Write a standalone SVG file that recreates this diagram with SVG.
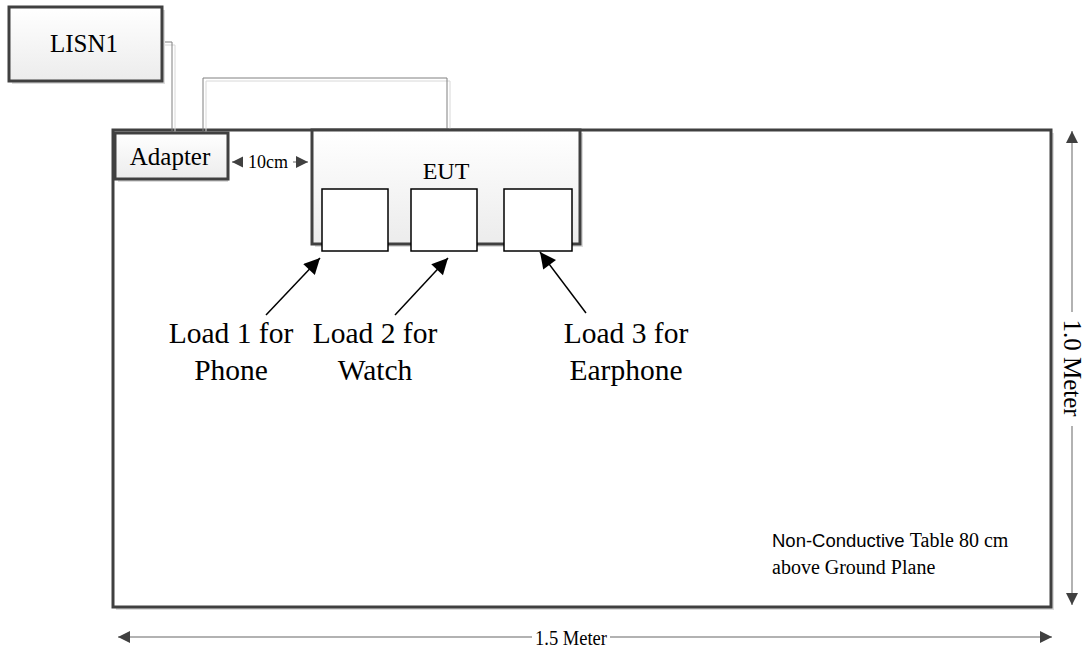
<svg xmlns="http://www.w3.org/2000/svg" width="1084" height="654" viewBox="0 0 1084 654">
<defs>
<linearGradient id="g" x1="0" y1="0" x2="0" y2="1">
<stop offset="0" stop-color="#ffffff"/>
<stop offset="1" stop-color="#ececec"/>
</linearGradient>
<marker id="ah" viewBox="0 0 10 10" refX="10" refY="5" markerWidth="16" markerHeight="12" markerUnits="userSpaceOnUse" orient="auto-start-reverse">
<path d="M0,0 L10,5 L0,10 z" fill="#404040"/>
</marker>
<marker id="ab" viewBox="0 0 10 10" refX="10" refY="5" markerWidth="22" markerHeight="16" markerUnits="userSpaceOnUse" orient="auto">
<path d="M0,0 L10,5 L0,10 z" fill="#000"/>
</marker>
</defs>
<style>
.sh{fill:#dcdcdc;stroke:none}
.box{fill:url(#g);stroke:#404040;stroke-width:3}
.ld{fill:#fff;stroke:#000;stroke-width:1.5}
.wire{fill:none;stroke:#808080;stroke-width:1}
.wsh{fill:none;stroke:#d8d8d8;stroke-width:1}
.dim{fill:none;stroke:#999;stroke-width:1.5}
.t{font-family:"Liberation Serif","Times New Roman",serif;fill:#000}
.s{font-family:"Liberation Sans",Arial,sans-serif;fill:#000}
.arr{stroke:#000;stroke-width:1.5;fill:none}
</style>

<g id="table">
<rect x="116" y="133" width="938" height="477" class="sh"/>
<rect x="113" y="130" width="938" height="477" fill="#fff" stroke="#404040" stroke-width="3"/>
<text class="s" x="772" y="547" font-size="18.5">Non-Conductive <tspan class="t" font-size="20">Table 80 cm</tspan></text>
<text class="t" x="772" y="574" font-size="20">above Ground Plane</text>
</g>

<g id="connectors">
<path class="wsh" d="M162,45 H175 V133"/>
<path class="wire" d="M162,42 H172 V133"/>
<path class="wsh" d="M206,133 V81 H450 V130"/>
<path class="wire" d="M203,133 V78 H447 V130"/>
<line class="dim" x1="232" y1="162" x2="308" y2="162" marker-start="url(#ah)" marker-end="url(#ah)"/>
<line class="arr" x1="266" y1="315" x2="320" y2="258" marker-end="url(#ab)"/>
<line class="arr" x1="395" y1="315" x2="448" y2="258" marker-end="url(#ab)"/>
<line class="arr" x1="586" y1="313" x2="540" y2="252" marker-end="url(#ab)"/>
<line class="dim" x1="1072" y1="131" x2="1072" y2="605" marker-start="url(#ah)" marker-end="url(#ah)"/>
<line class="dim" x1="118" y1="637" x2="1052" y2="637" marker-start="url(#ah)" marker-end="url(#ah)"/>
</g>

<g id="dimlabels">
<rect x="1062" y="312" width="20" height="114" fill="#fff"/>
<text class="t" font-size="25" transform="translate(1064,368) rotate(90)" text-anchor="middle">1.0 Meter</text>
<rect x="532" y="626" width="78" height="20" fill="#fff"/>
<text class="t" x="571" y="645" font-size="21" text-anchor="middle" textLength="72" lengthAdjust="spacingAndGlyphs">1.5 Meter</text>
<rect x="243" y="152" width="50" height="20" fill="#fff"/>
<text class="t" x="268" y="168" font-size="18" text-anchor="middle">10cm</text>
</g>

<g id="lisn1">
<rect x="12" y="10" width="153" height="74" class="sh"/>
<rect x="9" y="7" width="153" height="74" class="box"/>
<text class="t" x="84" y="52" font-size="25" text-anchor="middle">LISN1</text>
</g>

<g id="adapter">
<rect x="118" y="136" width="110" height="46" class="sh"/>
<rect x="115" y="133" width="113" height="46" class="box"/>
<text class="t" x="170" y="165" font-size="25" text-anchor="middle">Adapter</text>
</g>

<g id="eut">
<rect x="315" y="133" width="268" height="114" class="sh"/>
<rect x="312" y="130" width="268" height="114" class="box"/>
<text class="t" x="446" y="179" font-size="24" text-anchor="middle">EUT</text>
<rect x="322" y="189" width="66" height="62" class="ld"/>
<rect x="411" y="189" width="66" height="62" class="ld"/>
<rect x="504" y="189" width="68" height="62" class="ld"/>
</g>

<g id="labels">
<text class="t" font-size="29.5" text-anchor="middle"><tspan x="231" y="343">Load 1 for</tspan><tspan x="231" y="380">Phone</tspan></text>
<text class="t" font-size="29.5" text-anchor="middle"><tspan x="375" y="343">Load 2 for</tspan><tspan x="375" y="380">Watch</tspan></text>
<text class="t" font-size="29.5" text-anchor="middle"><tspan x="626" y="343">Load 3 for</tspan><tspan x="626" y="380">Earphone</tspan></text>
</g>
</svg>
